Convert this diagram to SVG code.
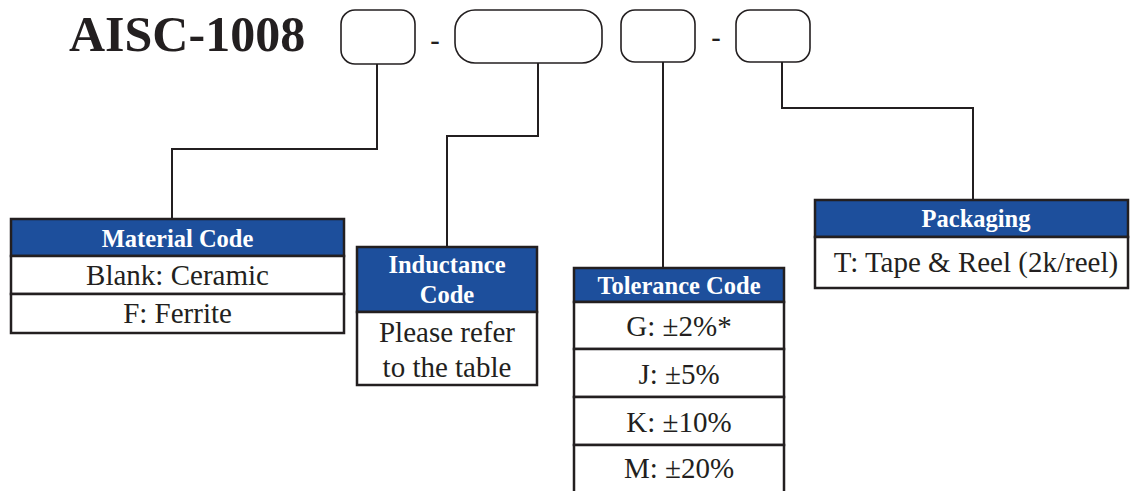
<svg xmlns="http://www.w3.org/2000/svg" width="1131" height="491" viewBox="0 0 1131 491">
<style>
.pill{fill:#fff;stroke:#231f20;stroke-width:1.6}
.wire{fill:none;stroke:#231f20;stroke-width:2}
.hdr{fill:#1d4f9c;stroke:#231f20;stroke-width:2.5}
.cell{fill:#fff;stroke:#231f20;stroke-width:2.5}
.ht{font-family:"Liberation Serif","Times New Roman",serif;font-weight:bold;font-size:24.5px;fill:#fff;text-anchor:middle}
.bt{font-family:"Liberation Serif","Times New Roman",serif;font-size:29px;fill:#231f20;text-anchor:middle}
.dash{font-family:"Liberation Sans",Arial,sans-serif;font-size:30px;fill:#231f20;text-anchor:middle}
</style>
<rect width="1131" height="491" fill="#fff"/>
<g id="title">
<text x="69" y="51" font-family="'Liberation Serif','Times New Roman',serif" font-weight="bold" font-size="50" fill="#231f20">AISC-1008</text>
</g>
<g id="code-boxes">
<rect id="box1" class="pill" x="341" y="10" width="74" height="54" rx="14"/>
<text class="dash" x="435" y="51">-</text>
<rect id="box2" class="pill" x="455" y="10" width="147" height="53" rx="20"/>
<rect id="box3" class="pill" x="621" y="10" width="74" height="52" rx="14"/>
<text class="dash" x="716" y="48">-</text>
<rect id="box4" class="pill" x="736" y="10" width="74" height="52" rx="14"/>
</g>
<g id="connectors">
<polyline class="wire" points="377,64 377,149 172,149 172,219"/>
<polyline class="wire" points="538,63 538,136 447,136 447,247"/>
<polyline class="wire" points="663,62 663,268"/>
<polyline class="wire" points="782,62 782,108 973,108 973,200"/>
</g>
<g id="material">
<rect class="hdr" x="11" y="219" width="333" height="37"/>
<text class="ht" x="177.5" y="247">Material Code</text>
<rect class="cell" x="11" y="256" width="333" height="38"/>
<text class="bt" x="177.5" y="285">Blank: Ceramic</text>
<rect class="cell" x="11" y="294" width="333" height="39"/>
<text class="bt" x="177.5" y="323">F: Ferrite</text>
</g>
<g id="inductance">
<rect class="hdr" x="357" y="247" width="180" height="65"/>
<text class="ht" x="447" y="273">Inductance</text>
<text class="ht" x="447" y="303">Code</text>
<rect class="cell" x="357" y="312" width="180" height="73"/>
<text class="bt" x="447" y="342">Please refer</text>
<text class="bt" x="447" y="377">to the table</text>
</g>
<g id="tolerance">
<rect class="hdr" x="574" y="268" width="210" height="34"/>
<text class="ht" x="679" y="294">Tolerance Code</text>
<rect class="cell" x="574" y="302" width="210" height="47"/>
<text class="bt" x="679" y="336">G: ±2%*</text>
<rect class="cell" x="574" y="349" width="210" height="48"/>
<text class="bt" x="679" y="384">J: ±5%</text>
<rect class="cell" x="574" y="397" width="210" height="48"/>
<text class="bt" x="679" y="432">K: ±10%</text>
<rect class="cell" x="574" y="445" width="210" height="60"/>
<text class="bt" x="679" y="478">M: ±20%</text>
</g>
<g id="packaging">
<rect class="hdr" x="815" y="200" width="313" height="37"/>
<text class="ht" x="976" y="227">Packaging</text>
<rect class="cell" x="815" y="237" width="313" height="51"/>
<text class="bt" x="976" y="272">T: Tape &amp; Reel (2k/reel)</text>
</g>
</svg>
